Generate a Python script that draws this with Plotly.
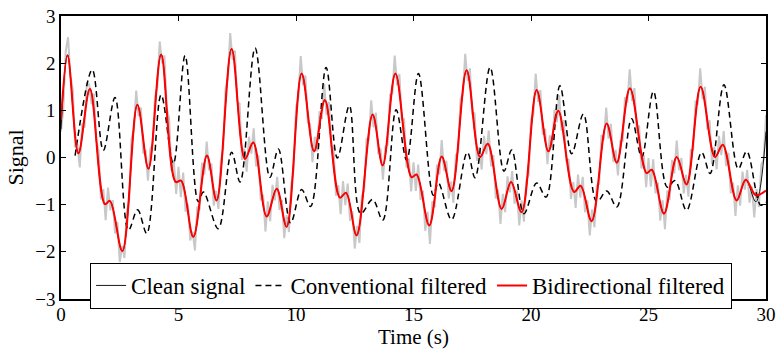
import numpy as np
import plotly.graph_objects as go

# ---- data ----
# Bidirectional (zero-phase) filtered output: extrema (time s, value)
bidir_t = [0.0, 0.28, 0.74, 1.23, 1.87, 2.08, 2.61, 3.25, 3.72, 4.26, 4.88, 5.11, 5.63, 6.21, 6.62,
           7.26, 7.83, 8.18, 8.75, 9.18, 9.60, 10.24, 10.77, 11.23, 11.87, 12.13, 12.58, 13.26, 13.69,
           14.23, 14.92, 15.13, 15.67, 16.20, 16.62, 17.26, 17.83, 18.16, 18.75, 19.15, 19.60, 20.24,
           20.74, 21.16, 21.83, 22.11, 22.58, 23.22, 23.65, 24.21, 24.92, 25.14, 25.66, 26.20, 26.62,
           27.22, 27.83, 28.16, 28.75, 29.14, 29.57, 30.0]
bidir_y = [0.80, 2.16, 0.09, 1.45, -0.99, -0.92, -1.98, 1.12, -0.24, 2.18, -0.52, -0.49, -1.68, 0.04, -0.91,
           2.30, -0.03, 0.32, -1.25, -0.66, -1.47, 1.78, 0.13, 1.22, -0.85, -0.75, -1.65, 0.91, -0.17,
           1.78, -0.42, -0.36, -1.44, 0.02, -0.71, 1.85, 0.01, 0.29, -1.09, -0.52, -1.16, 1.43,
           0.13, 0.99, -0.73, -0.60, -1.35, 0.72, -0.11, 1.47, -0.33, -0.26, -1.19, 0.01, -0.57,
           1.50, 0.01, 0.27, -0.91, -0.47, -0.80, -0.70]

# Clean signal (mostly hidden under the red curve)
clean_t = [0.0, 0.28, 0.74, 1.23, 1.87, 2.08, 2.61, 3.25, 3.72, 4.26, 4.88, 5.11, 5.63, 6.21, 6.62,
           7.26, 7.83, 8.18, 8.75, 9.18, 9.60, 10.24, 10.77, 11.23, 11.87, 12.13, 12.58, 13.26, 13.69,
           14.23, 14.92, 15.13, 15.67, 16.20, 16.62, 17.26, 17.83, 18.16, 18.75, 19.15, 19.60, 20.24,
           20.74, 21.16, 21.83, 22.11, 22.58, 23.22, 23.65, 24.21, 24.92, 25.14, 25.66, 26.20, 26.62,
           27.22, 27.83, 28.16, 28.75, 29.14, 29.57, 30.0]
clean_y = [0.60, 2.18, 0.08, 1.46, -0.99, -0.92, -1.99, 1.12, -0.24, 2.19, -0.52, -0.49, -1.69, 0.04, -0.91,
           2.31, -0.03, 0.32, -1.25, -0.66, -1.47, 1.78, 0.13, 1.22, -0.85, -0.75, -1.65, 0.91, -0.17,
           1.78, -0.42, -0.36, -1.44, 0.02, -0.71, 1.85, 0.01, 0.29, -1.09, -0.52, -1.16, 1.43,
           0.13, 0.99, -0.73, -0.60, -1.35, 0.72, -0.11, 1.47, -0.33, -0.26, -1.19, 0.01, -0.57,
           1.50, 0.01, 0.27, -0.91, -0.47, -0.94, 0.55]

# Conventional (causal) filtered output: extrema (time s, value)
conv_t = [0.60, 1.33, 1.80, 2.30, 2.87, 3.26, 3.65, 4.26, 4.78, 5.28, 5.84, 6.06, 6.69, 7.26, 7.62,
          8.26, 8.89, 9.25, 9.77, 10.24, 10.62, 11.28, 11.76, 12.27, 12.75, 13.26, 13.69, 14.26, 14.71,
          15.21, 15.84, 16.06, 16.62, 17.29, 17.62, 18.26, 18.85, 19.18, 19.70, 20.24, 20.64, 21.23,
          21.73, 22.23, 22.80, 23.22, 23.65, 24.28, 24.71, 25.21, 25.80, 26.13, 26.62, 27.26, 27.62,
          28.21, 28.82, 29.18, 29.77, 30.0]
conv_y = [0.04, 1.86, 0.15, 1.27, -1.54, -1.11, -1.61, 1.33, -0.13, 2.16, -0.94, -0.73, -1.51, 0.11, -0.52,
          2.32, -0.42, 0.18, -1.39, -0.68, -1.04, 1.91, -0.01, 1.10, -1.19, -0.89, -1.33, 1.01, -0.06,
          1.78, -0.80, -0.54, -1.32, 0.11, -0.43, 1.91, -0.29, 0.16, -1.19, -0.54, -0.84, 1.52,
          0.08, 0.92, -0.94, -0.71, -1.05, 0.82, 0.01, 1.40, -0.63, -0.49, -1.12, 0.11, -0.34,
          1.54, -0.24, 0.13, -1.01, -0.95]

# Noisy measured signal, sampled every 0.1 s from 0 to 30 s
noisy_y = [
    0.55, 1.04, 2.25, 2.55, 1.73, 1.45, 0.22, 0.28, -0.21, 0.72,
    0.63, 1.58, 1.54, 1.13, 1.35, 0.38, 0.14, -0.89, -0.67, -1.33,
    -0.64, -1.12, -0.90, -1.61, -1.37, -2.22, -1.88, -2.13, -1.16, -0.91,
    0.40, 0.57, 1.42, 0.88, 1.06, 0.08, 0.16, -0.49, 0.19, 0.27,
    1.29, 1.50, 2.46, 2.00, 2.16, 1.05, 0.83, -0.28, -0.06, -0.77,
    -0.20, -0.84, -0.32, -1.15, -0.99, -1.76, -1.57, -1.97, -1.04, -1.11,
    -0.11, -0.36, 0.34, -0.27, -0.13, -1.02, -0.71, -1.09, -0.08, 0.17,
    1.46, 1.68, 2.64, 2.07, 2.27, 1.18, 1.14, -0.05, 0.19, -0.30,
    0.44, 0.08, 0.62, -0.19, 0.05, -0.91, -0.79, -1.57, -0.93, -1.35,
    -0.58, -0.91, -0.41, -1.11, -0.90, -1.71, -1.22, -1.58, -0.56, -0.26,
    1.07, 1.27, 2.15, 1.53, 1.74, 0.73, 0.71, -0.10, 0.44, 0.13,
    0.98, 0.82, 1.56, 0.91, 1.18, 0.24, 0.19, -0.81, -0.59, -1.20,
    -0.50, -1.01, -0.55, -1.34, -1.14, -1.93, -1.45, -1.81, -0.81, -0.70,
    0.39, 0.38, 1.21, 0.64, 0.95, 0.07, 0.19, -0.47, 0.22, 0.27,
    1.33, 1.36, 2.16, 1.53, 1.77, 0.80, 0.81, -0.21, -0.02, -0.72,
    -0.10, -0.71, -0.15, -0.90, -0.70, -1.55, -1.15, -1.83, -0.93, -1.06,
    -0.15, -0.36, 0.37, -0.28, -0.07, -0.87, -0.51, -0.96, 0.05, 0.11,
    1.24, 1.33, 2.20, 1.63, 1.89, 0.91, 0.95, -0.07, 0.22, -0.26,
    0.46, 0.07, 0.57, -0.19, 0.05, -0.87, -0.68, -1.41, -0.77, -1.16,
    -0.40, -0.74, -0.29, -0.98, -0.70, -1.44, -0.91, -1.36, -0.49, -0.37,
    0.81, 0.90, 1.78, 1.18, 1.43, 0.49, 0.61, -0.14, 0.47, 0.21,
    1.01, 0.75, 1.32, 0.57, 0.79, -0.09, -0.03, -0.88, -0.52, -1.07,
    -0.36, -0.85, -0.41, -1.16, -0.91, -1.65, -1.10, -1.48, -0.59, -0.56,
    0.48, 0.38, 1.06, 0.40, 0.71, -0.09, 0.16, -0.38, 0.35, 0.35,
    1.28, 1.17, 1.87, 1.20, 1.47, 0.57, 0.68, -0.23, 0.05, -0.63,
    -0.01, -0.62, -0.04, -0.76, -0.53, -1.34, -0.91, -1.52, -0.70, -0.90,
    -0.05, -0.34, 0.36, -0.27, -0.01, -0.76, -0.37, -0.83, 0.16, 0.16,
    1.18, 1.15, 1.89, 1.24, 1.50, 0.59, 0.79, -0.14, 0.22, -0.25,
    0.46, 0.05, 0.56, -0.18, 0.10, -0.76, -0.53, -1.24, -0.59, -1.02,
    -0.30, -0.68, -0.26, -0.96, -0.62, -1.27, -0.67, -1.05, -0.15, -0.05,
    0.90]
noisy_t = np.round(np.arange(len(noisy_y)) * 0.1, 1)

x_ticks = [0, 5, 10, 15, 20, 25, 30]
y_ticks = [-3, -2, -1, 0, 1, 2, 3]

FONT = "Liberation Serif, Times New Roman, serif"

fig = go.Figure()
fig.add_trace(go.Scatter(x=noisy_t, y=noisy_y, mode="lines", showlegend=False,
                         line=dict(color="#c8c8c8", width=2), hoverinfo="skip"))
fig.add_trace(go.Scatter(x=clean_t, y=clean_y, mode="lines", name="Clean signal",
                         line=dict(color="#1a1a1a", width=1, shape="spline")))
fig.add_trace(go.Scatter(x=conv_t, y=conv_y, mode="lines", name="Conventional filtered",
                         line=dict(color="black", width=1.5, dash="6px,4px", shape="spline")))
fig.add_trace(go.Scatter(x=bidir_t, y=bidir_y, mode="lines", name="Bidirectional filtered",
                         line=dict(color="#ff0000", width=2, shape="spline")))

axis_common = dict(showline=True, linecolor="black", linewidth=1.5, mirror="ticks",
                   ticks="inside", ticklen=5, tickwidth=1, tickcolor="black",
                   showgrid=False, zeroline=False,
                   tickfont=dict(family=FONT, size=19, color="black"))

fig.update_xaxes(range=[0, 30], tickvals=x_ticks, ticklabelstandoff=-3,
                 title=dict(text="Time (s)", font=dict(family=FONT, size=21, color="black"), standoff=10),
                 **axis_common)
fig.update_yaxes(range=[-3, 3], tickvals=y_ticks,
                 title=dict(text="Signal", font=dict(family=FONT, size=22, color="black"), standoff=6),
                 **axis_common)

fig.update_layout(
    width=777, height=349,
    margin=dict(l=61, r=11, t=16, b=50, autoexpand=False),
    paper_bgcolor="white", plot_bgcolor="white",
    font=dict(family=FONT, size=20, color="black"),
    legend=dict(orientation="h", x=0.041, y=0.128, xanchor="left", yanchor="top",
                bgcolor="white", bordercolor="black", borderwidth=1.2,
                font=dict(family=FONT, size=23, color="black"),
                tracegroupgap=0, itemwidth=30),
)

fig.write_html("out.html")
